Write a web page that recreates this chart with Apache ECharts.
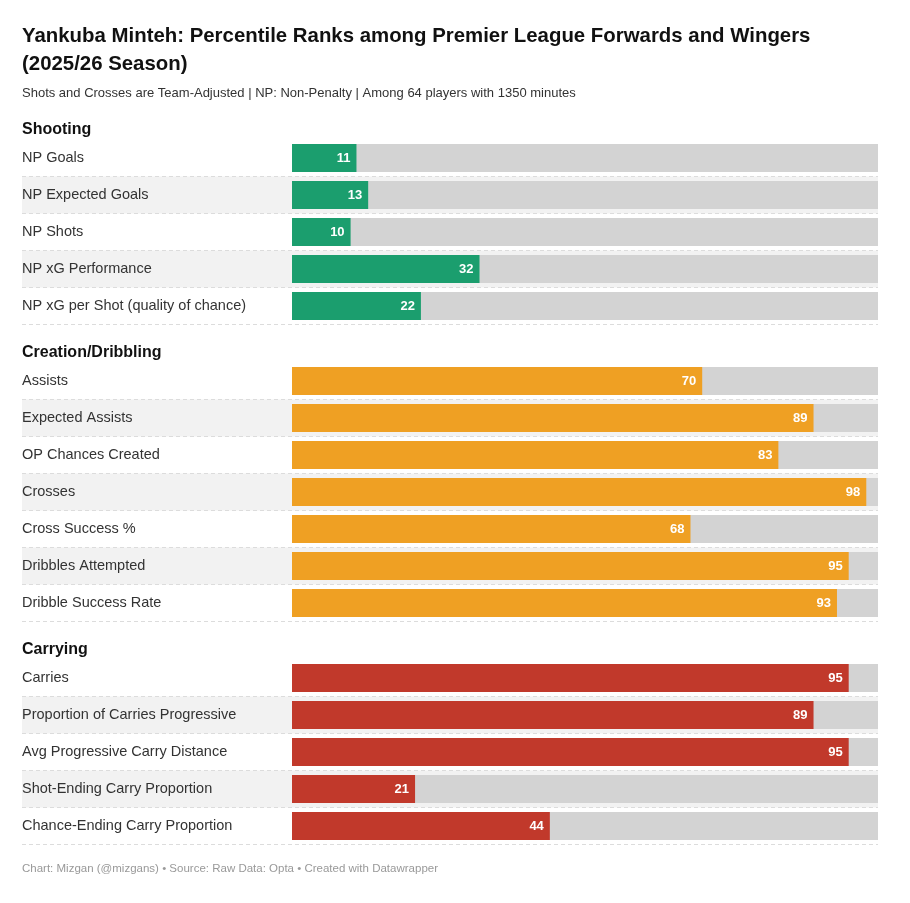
<!DOCTYPE html>
<html>
<head>
<meta charset="utf-8">
<script src="https://cdn.jsdelivr.net/npm/echarts@6/dist/echarts.min.js"></script>
<style>
	html, body { margin: 0; padding: 0; background: #fff; }
	#chart { width: 910px; height: 903px; }
</style>
</head>
<body>
<div id="chart"></div>
<script>
// 数据
const shootingLabels = ['NP Goals', 'NP Expected Goals', 'NP Shots', 'NP xG Performance', 'NP xG per Shot (quality of chance)']
const shootingValues = [11, 13, 10, 32, 22]

const creationLabels = ['Assists', 'Expected Assists', 'OP Chances Created', 'Crosses', 'Cross Success %', 'Dribbles Attempted', 'Dribble Success Rate']
const creationValues = [70, 89, 83, 98, 68, 95, 93]

const carryingLabels = ['Carries', 'Proportion of Carries Progressive', 'Avg Progressive Carry Distance', 'Shot-Ending Carry Proportion', 'Chance-Ending Carry Proportion']
const carryingValues = [95, 89, 95, 21, 44]

const groupNames = ['Shooting', 'Creation/Dribbling', 'Carrying']

const font = '"Liberation Sans", Arial, sans-serif'
const rowH = 37
const barLeft = 292
const chartLeft = 22
const chartRight = 878

const groups = [
	{ labels: shootingLabels, values: shootingValues, color: '#1b9e6e', top: 139.5 },
	{ labels: creationLabels, values: creationValues, color: '#efa023', top: 362.5 },
	{ labels: carryingLabels, values: carryingValues, color: '#c1392b', top: 659.5 }
]

// 让 0 落在 barLeft
const xMin = -((barLeft - chartLeft) / (chartRight - barLeft)) * 100

const grid = []
const xAxis = []
const yAxis = []
const series = []

groups.forEach((g, i) => {
	grid.push({
		left: chartLeft,
		right: 910 - chartRight,
		top: g.top,
		height: g.labels.length * rowH
	})
	xAxis.push({
		gridIndex: i,
		type: 'value',
		min: xMin,
		max: 100,
		show: false
	})
	yAxis.push({
		gridIndex: i,
		type: 'category',
		inverse: true,
		data: g.labels,
		axisLine: { show: false },
		axisTick: { show: false },
		axisLabel: {
			inside: true,
			margin: 0,
			color: '#333',
			fontSize: 14.5,
			fontFamily: font,
			padding: [2, 0, 0, 0]
		},
		splitLine: {
			show: true,
			interval: (index) => index !== 0,
			lineStyle: { color: '#dcdcdc', type: [4, 3], width: 1 }
		},
		splitArea: {
			show: true,
			interval: 0,
			areaStyle: { color: ['rgba(255,255,255,0)', '#f2f2f2'] }
		}
	})
	series.push({
		type: 'bar',
		xAxisIndex: i,
		yAxisIndex: i,
		data: g.labels.map(() => 100),
		barWidth: 28,
		barGap: '-100%',
		itemStyle: { color: '#d3d3d3' },
		silent: true,
		animation: false
	})
	series.push({
		type: 'bar',
		xAxisIndex: i,
		yAxisIndex: i,
		data: g.values,
		barWidth: 28,
		barGap: '-100%',
		itemStyle: { color: g.color },
		label: {
			show: true,
			position: 'insideRight',
			distance: 6,
			color: '#fff',
			fontWeight: 'bold',
			fontSize: 13,
			fontFamily: font
		},
		animation: false
	})
})

const titles = [
	{
		text: 'Yankuba Minteh: Percentile Ranks among Premier League Forwards and Wingers\n(2025/26 Season)',
		left: 22,
		top: 22,
		padding: 0,
		textStyle: { fontSize: 20.4, fontWeight: 'bold', color: '#111', fontFamily: font, lineHeight: 28 }
	},
	{
		text: 'Shots and Crosses are Team-Adjusted | NP: Non-Penalty | Among 64 players with 1350 minutes',
		left: 22,
		top: 87,
		padding: 0,
		textStyle: { fontSize: 13, fontWeight: 'normal', color: '#333', fontFamily: font }
	},
	{
		text: 'Chart: Mizgan (@mizgans) • Source: Raw Data: Opta • Created with Datawrapper',
		left: 22,
		top: 863,
		padding: 0,
		textStyle: { fontSize: 11.5, fontWeight: 'normal', color: '#999', fontFamily: font }
	}
]

const headerY = [128, 351, 648]
groupNames.forEach((name, i) => {
	titles.push({
		text: name,
		left: 22,
		top: headerY[i] - 6,
		padding: 0,
		textStyle: { fontSize: 16, fontWeight: 'bold', color: '#111', fontFamily: font }
	})
})

const chart = echarts.init(document.getElementById('chart'))
chart.setOption({
	animation: false,
	backgroundColor: '#fff',
	title: titles,
	grid,
	xAxis,
	yAxis,
	series
})
</script>
</body>
</html>
